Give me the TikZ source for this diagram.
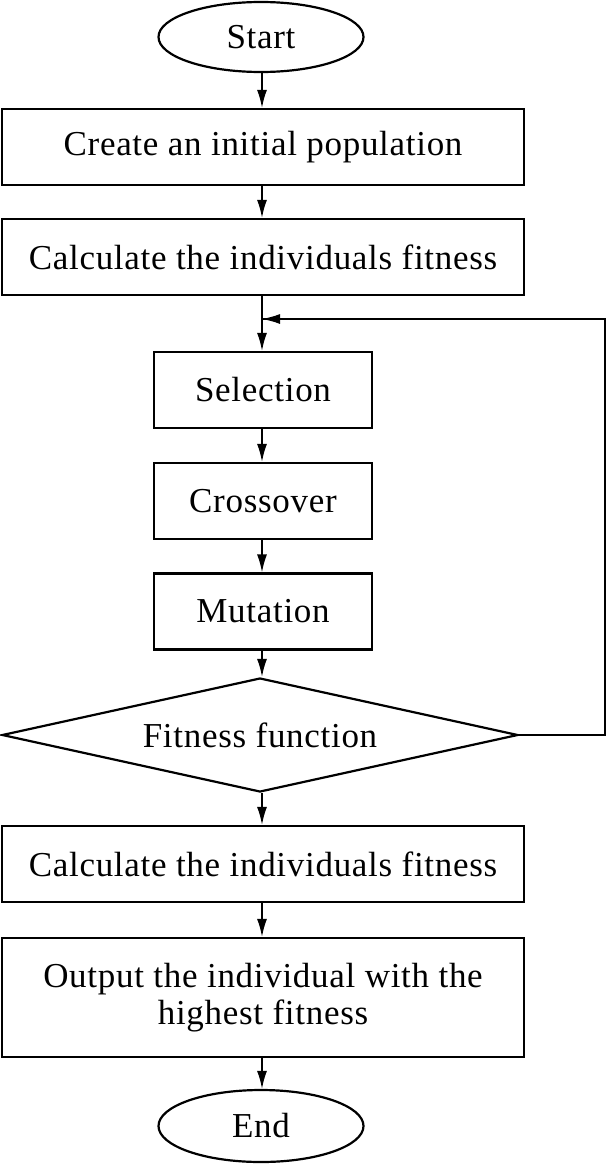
\documentclass[tikz,border=0pt]{standalone}
\usepackage{fontspec}
\setmainfont{Liberation Serif}[LetterSpace=2]
\usetikzlibrary{shapes.geometric,arrows.meta}
\begin{document}
\begin{tikzpicture}[x=1pt,y=-1pt,
  font=\fontsize{35}{37}\selectfont,
  box/.style={draw,line width=2.2pt,rectangle,inner sep=0pt,align=center},
  term/.style={draw,line width=2.2pt,ellipse,inner sep=0pt,minimum width=205pt,minimum height=70pt},
  dec/.style={draw,line width=2.2pt,diamond,shape aspect=4.5,inner sep=0pt,minimum width=516pt,minimum height=114pt},
  arr/.style={line width=1.6pt,-{Latex[length=18pt,width=10pt]}},
  fb/.style={line width=1.4pt}]
\useasboundingbox (0,0) rectangle (606,1164);
\node[term] (start) at (261,37) {Start};
\node[box,minimum width=522pt,minimum height=76pt] (b1) at (263,147) {Create an initial population};
\node[box,minimum width=522pt,minimum height=76pt] (b2) at (263,257) {Calculate the individuals fitness};
\node[box,minimum width=218pt,minimum height=76pt] (sel) at (263,390) {Selection};
\node[box,minimum width=218pt,minimum height=76pt] (cro) at (263,501) {Crossover};
\node[box,minimum width=218pt,minimum height=76pt] (mut) at (263,611.5) {Mutation};
\node[dec] (fit) at (260,735) {Fitness function};
\node[box,minimum width=522pt,minimum height=76pt] (b3) at (263,864) {Calculate the individuals fitness};
\node[box,minimum width=522pt,minimum height=119pt] (b4) at (263,997.5) {Output the individual with the\\highest fitness};
\node[term,minimum height=72pt] (end) at (261,1126) {End};
\coordinate (join) at (262,319);
\coordinate (fr) at (605,735);
\coordinate (fu) at (605,319);
\draw[arr] (start.south -| 262,0) -- (b1.north -| 262,0);
\draw[arr] (b1.south -| 262,0) -- (b2.north -| 262,0);
\draw[arr] (b2.south -| 262,0) -- (sel.north -| 262,0);
\draw[arr] (sel.south -| 262,0) -- (cro.north -| 262,0);
\draw[arr] (cro.south -| 262,0) -- (mut.north -| 262,0);
\draw[arr] (mut.south -| 262,0) -- (fit.north -| 262,0);
\draw[arr] (fit.south -| 262,0) -- (b3.north -| 262,0);
\draw[arr] (b3.south -| 262,0) -- (b4.north -| 262,0);
\draw[arr] (b4.south -| 262,0) -- (end.north -| 262,0);
\draw[fb] (fit.east) -- (fr) -- (fu) -- (join);
\draw[arr,line width=1.4pt] (fu) -- (join);
\end{tikzpicture}
\end{document}
